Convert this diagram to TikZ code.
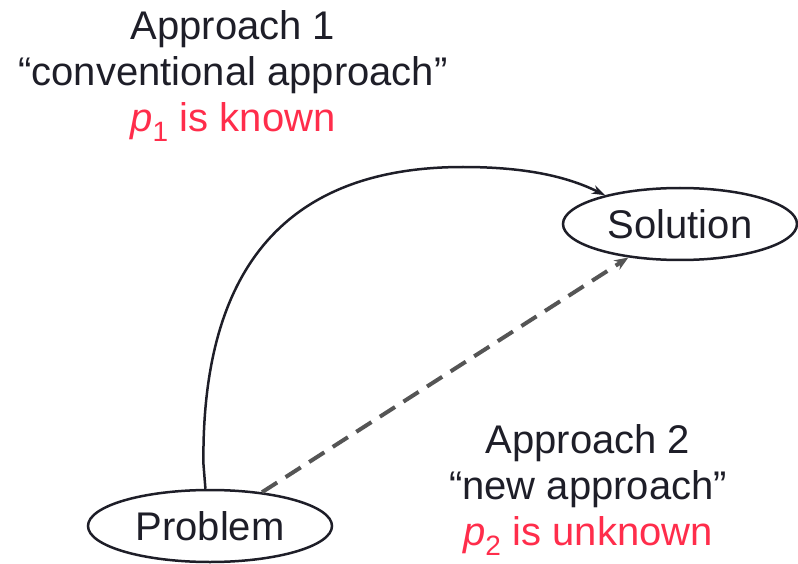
\documentclass[tikz,border=0pt]{standalone}
\usepackage{fontspec}
\setmainfont{Liberation Sans}
\usetikzlibrary{shapes.geometric,arrows.meta}
\definecolor{txt}{RGB}{30,30,40}
\definecolor{redtxt}{RGB}{255,45,75}
\definecolor{dashc}{RGB}{85,85,85}
\tikzset{
  lbl/.style={font=\fontsize{40}{46}\selectfont, text=txt, align=center, inner sep=0pt},
  oval/.style={ellipse, draw=txt, line width=2.5pt, inner sep=0pt, font=\fontsize{40}{46}\selectfont, text=txt},
  conn/.style={line width=2.5pt, draw=txt, -{Stealth[length=13pt,width=9pt]}},
  dconn/.style={line width=4pt, draw=dashc, dash pattern=on 18pt off 10pt, -{Stealth[length=14pt,width=11pt]}}
}
\begin{document}
\begin{tikzpicture}[x=1pt,y=-1pt]
\useasboundingbox (0,0) rectangle (798,564);
\node[oval, minimum width=234pt, minimum height=72pt] (sol) at (680,224) {Solution};
\node[oval, minimum width=244pt, minimum height=72pt] (prob) at (210,526) {Problem};
\node[lbl] (a1) at (233,76) {Approach 1\\``conventional approach''\\\textcolor{redtxt}{\textit{p}\textsubscript{1} is known}};
\node[lbl] (a2) at (588,490) {Approach 2\\``new approach''\\\textcolor{redtxt}{\textit{p}\textsubscript{2} is unknown}};
\draw[conn] (prob.97) -- ++(-2,-25) .. controls ++(-2,-200) and (290,167) .. (463,167) .. controls (530,167) and (570,178) .. (sol.159);
\draw[dconn] (prob.33) -- (sol.213);
\end{tikzpicture}
\end{document}
